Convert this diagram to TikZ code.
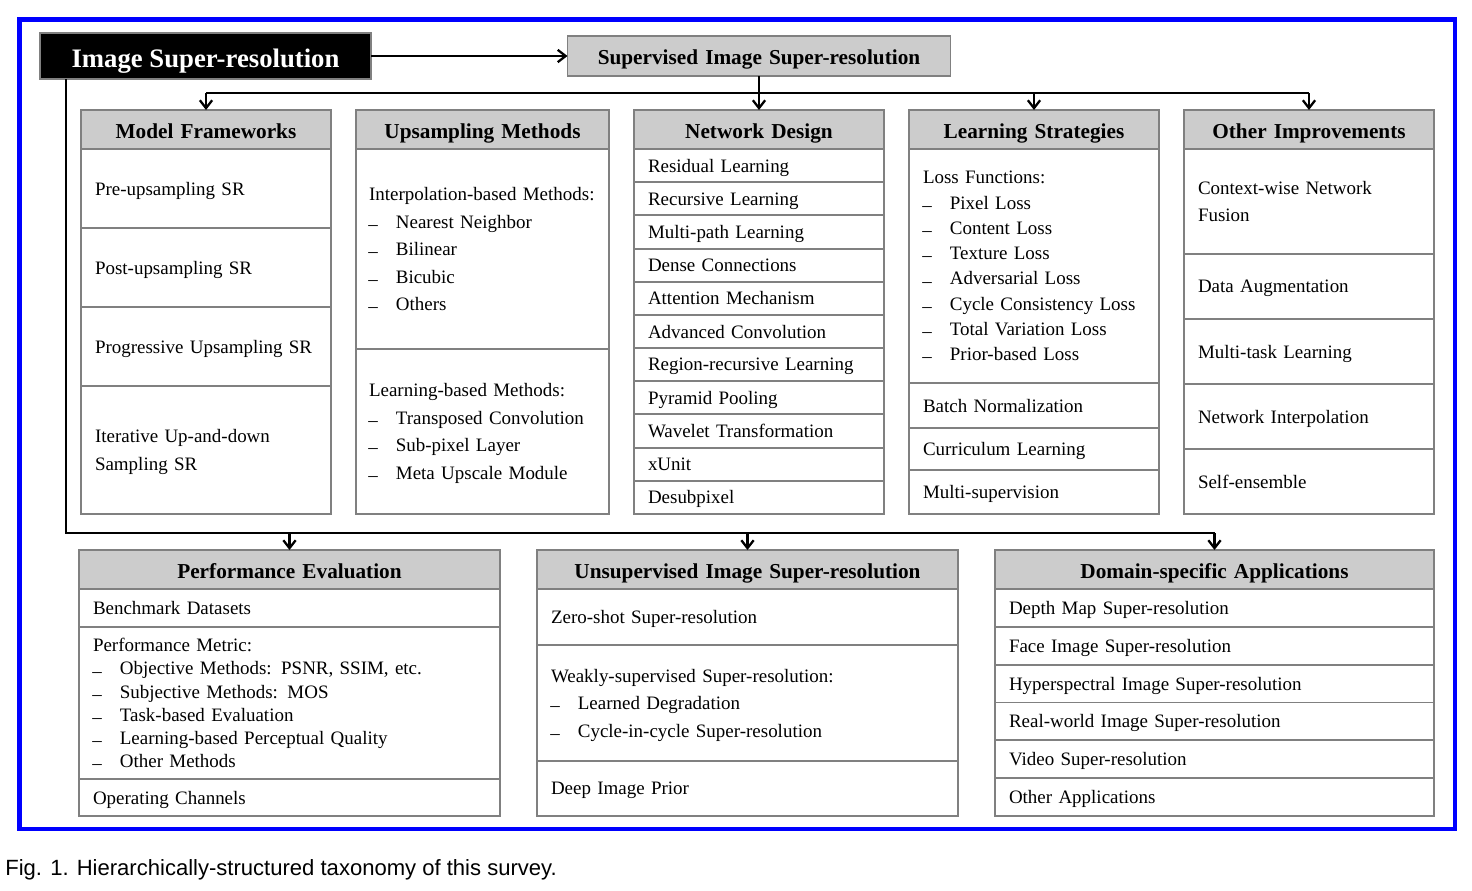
\documentclass[tikz,border=0pt]{standalone}
\usepackage{fontspec}
\setmainfont{Liberation Serif}
\newfontfamily\capfont{Liberation Sans}
\usetikzlibrary{positioning,arrows.meta}
\newdimen\px \px=0.02cm
\newcommand{\dsh}{\makebox[15.3pt][l]{\raisebox{-1.2pt}{\kern-0.3pt–}}}
\definecolor{headgray}{RGB}{204,204,204}
\definecolor{linegray}{RGB}{128,128,128}
\begin{document}
\begin{tikzpicture}[x=0.02cm, y=-0.02cm]
\tikzset{
  box/.style={draw=linegray, line width=1.1pt, outer sep=0pt, inner xsep=14\px, inner ysep=2pt},
  head/.style={box, fill=headgray, minimum height=39\px, align=center, text height=17\px, text depth=0pt,
    font=\bfseries\fontsize{12.1}{14}\selectfont},
  cell/.style={box, fill=white, align=left, text depth=0pt, font=\fontsize{10.8}{15.7}\selectfont},
  rest/.style={text depth=#1},
  colw/.style={text width=222\px},
  colup/.style={text width=227\px, inner xsep=13\px},
  colb/.style={text width=393\px},
  cold/.style={text width=411\px},
  conn/.style={line width=1.3pt},
  arr/.style={conn, -{Straight Barb[length=4.5pt,width=7pt]}},
}
\useasboundingbox (0,0) rectangle (1472,890);
\draw[blue, line width=2.3pt] (19.5,19.5) rectangle (1455,829);

% root and supervised branch
\node[draw=linegray, line width=1.1pt, fill=black, text=white, font=\bfseries\fontsize{15.2}{18}\selectfont,
  minimum width=331\px, minimum height=46\px, inner sep=0pt, outer sep=0pt, text height=22\px, text depth=0pt]
  (isr) at (205.5,56) {Image Super-resolution};
\node[head, text width=355\px, minimum height=40\px] (sisr) at (759,56) {Supervised Image Super-resolution};

% top row
\node[head, colw, anchor=north] (mf) at (206,110) {Model Frameworks};
\node[cell, colw, minimum height=79\px, below=0pt of mf] (mf1) {Pre-upsampling SR};
\node[cell, colw, minimum height=79\px, below=0pt of mf1] (mf2) {Post-upsampling SR};
\node[cell, colw, minimum height=79\px, below=0pt of mf2] (mf3) {Progressive Upsampling SR};
\node[cell, colw, minimum height=128\px, below=0pt of mf3, rest=15.7pt] (mf4) {Iterative Up-and-down\\Sampling SR};

\node[head, colup, anchor=north] (um) at (482.5,110) {Upsampling Methods};
\node[cell, colup, minimum height=200\px, below=0pt of um, rest=62.8pt] (um1) {Interpolation-based Methods:\\\dsh Nearest Neighbor\\\dsh Bilinear\\\dsh Bicubic\\\dsh Others};
\node[cell, colup, minimum height=165\px, below=0pt of um1, rest=47.1pt] (um2) {Learning-based Methods:\\\dsh Transposed Convolution\\\dsh Sub-pixel Layer\\\dsh Meta Upscale Module};

\node[head, colw, anchor=north, alias=nd0] (nd) at (759,110) {Network Design};
\foreach \t [count=\i, remember=\i as \j (initially 0)] in {Residual Learning, Recursive Learning,
    Multi-path Learning, Dense Connections, Attention Mechanism, Advanced Convolution,
    Region-recursive Learning, Pyramid Pooling, Wavelet Transformation, xUnit, Desubpixel}
  \node[cell, colw, minimum height=33.18\px, below=0pt of nd\j] (nd\i) {\t};

\node[head, colw, anchor=north] (ls) at (1034,110) {Learning Strategies};
\node[cell, colw, minimum height=234\px, below=0pt of ls, font=\fontsize{10.8}{14.4}\selectfont, rest=100.8pt] (ls1) {Loss Functions:\\\dsh Pixel Loss\\\dsh Content Loss\\\dsh Texture Loss\\\dsh Adversarial Loss\\\dsh Cycle Consistency Loss\\\dsh Total Variation Loss\\\dsh Prior-based Loss};
\node[cell, colw, minimum height=45\px, below=0pt of ls1] (ls2) {Batch Normalization};
\node[cell, colw, minimum height=42\px, below=0pt of ls2] (ls3) {Curriculum Learning};
\node[cell, colw, minimum height=44\px, below=0pt of ls3] (ls4) {Multi-supervision};

\node[head, colw, anchor=north] (oi) at (1309,110) {Other Improvements};
\node[cell, colw, minimum height=105\px, below=0pt of oi, rest=15.7pt] (oi1) {Context-wise Network\\Fusion};
\node[cell, colw, minimum height=65\px, below=0pt of oi1] (oi2) {Data Augmentation};
\node[cell, colw, minimum height=65\px, below=0pt of oi2] (oi3) {Multi-task Learning};
\node[cell, colw, minimum height=65\px, below=0pt of oi3] (oi4) {Network Interpolation};
\node[cell, colw, minimum height=65\px, below=0pt of oi4] (oi5) {Self-ensemble};

% bottom row
\node[head, colb, anchor=north] (pe) at (289.5,550) {Performance Evaluation};
\node[cell, colb, minimum height=38\px, below=0pt of pe] (pe1) {Benchmark Datasets};
\node[cell, colb, minimum height=152\px, below=0pt of pe1, font=\fontsize{10.8}{13.2}\selectfont, rest=66pt] (pe2) {Performance Metric:\\\dsh Objective Methods: PSNR, SSIM, etc.\\\dsh Subjective Methods: MOS\\\dsh Task-based Evaluation\\\dsh Learning-based Perceptual Quality\\\dsh Other Methods};
\node[cell, colb, minimum height=37\px, below=0pt of pe2] (pe3) {Operating Channels};

\node[head, colb, anchor=north] (uisr) at (747.5,550) {Unsupervised Image Super-resolution};
\node[cell, colb, minimum height=56\px, below=0pt of uisr] (uisr1) {Zero-shot Super-resolution};
\node[cell, colb, minimum height=116\px, below=0pt of uisr1, rest=31.4pt] (uisr2) {Weakly-supervised Super-resolution:\\\dsh Learned Degradation\\\dsh Cycle-in-cycle Super-resolution};
\node[cell, colb, minimum height=55\px, below=0pt of uisr2] (uisr3) {Deep Image Prior};

\node[head, cold, anchor=north, alias=dsa0] (dsa) at (1214.5,550) {Domain-specific Applications};
\foreach \t [count=\i, remember=\i as \j (initially 0)] in {Depth Map Super-resolution,
    Face Image Super-resolution, Hyperspectral Image Super-resolution,
    Real-world Image Super-resolution, Video Super-resolution, Other Applications}
  \node[cell, cold, minimum height=37.83\px, below=0pt of dsa\j] (dsa\i) {\t};

% connectors
\coordinate (topbus) at (0,93);
\coordinate (lowbus) at (66,533);
\draw[arr] (isr) -- (sisr);
\draw[arr] (sisr) -- (nd);
\draw[conn] (mf.north |- topbus) -- (oi.north |- topbus);
\foreach \n in {mf, ls, oi}
  \draw[arr] (\n.north |- topbus) -- (\n);
\draw[conn] (isr.south -| lowbus) -- (lowbus) -- (dsa.north |- lowbus);
\foreach \n in {pe, uisr, dsa}
  \draw[arr] (\n.north |- lowbus) -- (\n);

\node[anchor=base west, inner sep=0pt, font=\capfont\fontsize{12.55}{14}\selectfont] (cap) at (5,875) {Fig. 1. Hierarchically-structured taxonomy of this survey.};
\end{tikzpicture}
\end{document}
